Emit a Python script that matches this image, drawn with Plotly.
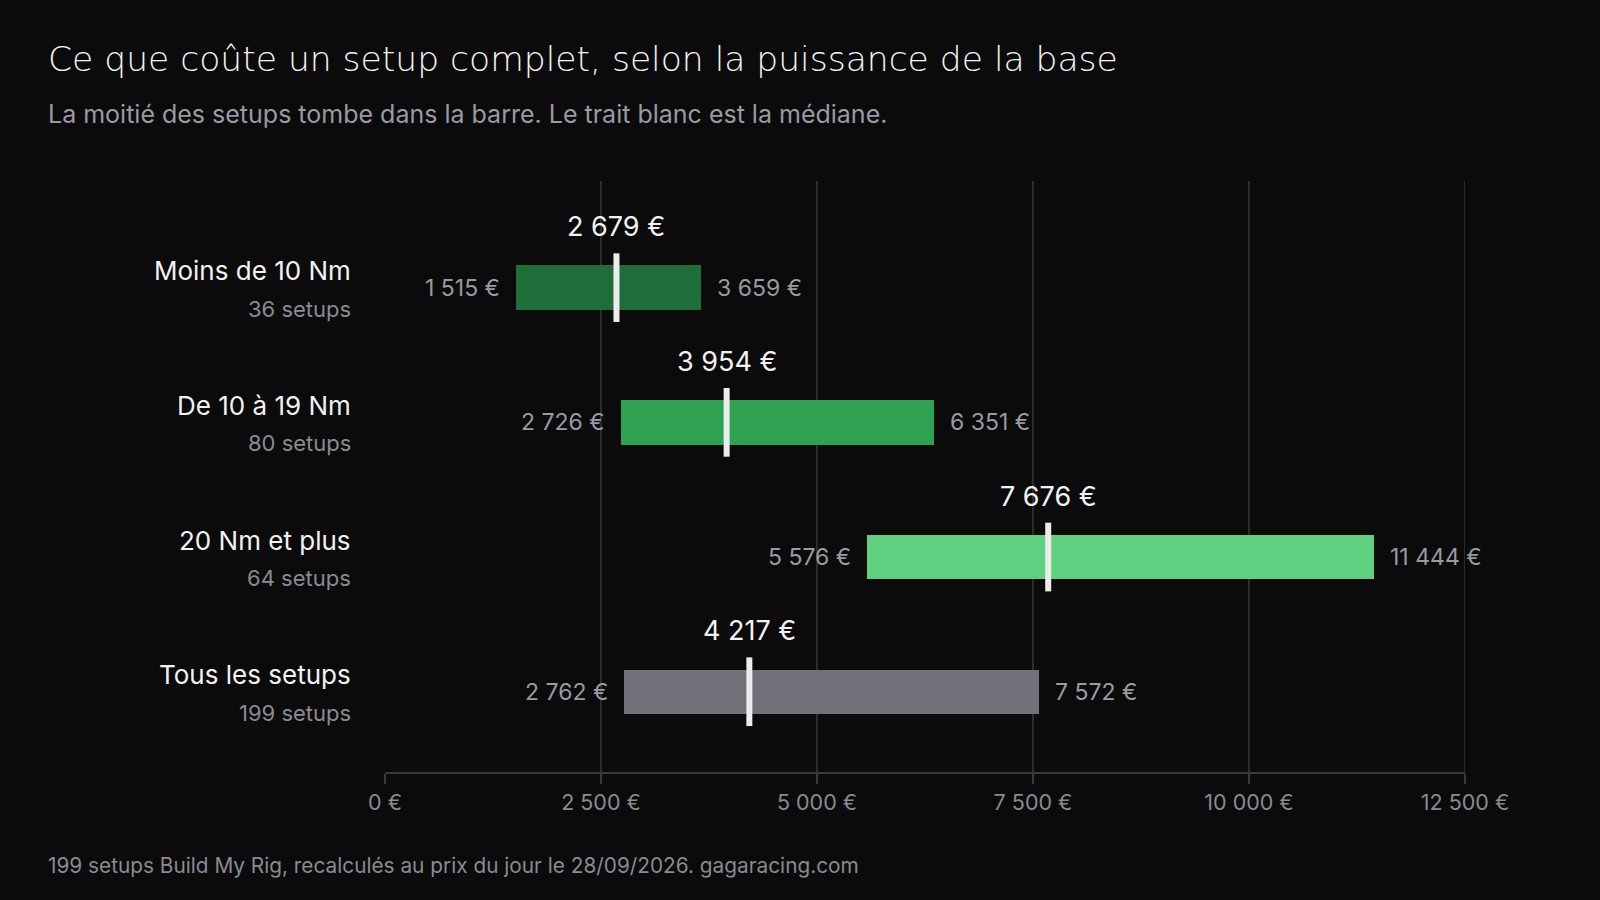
import plotly.graph_objects as go

# data
groups = ['Moins de 10 Nm', 'De 10 à 19 Nm', '20 Nm et plus', 'Tous les setups']
counts = [36, 80, 64, 199]
q1 = [1515, 2726, 5576, 2762]
median = [2679, 3954, 7676, 4217]
q3 = [3659, 6351, 11444, 7572]
bar_colors = ['#1f6e3a', '#2ea152', '#5fd07f', '#71717a']
tick_vals = [0, 2500, 5000, 7500, 10000, 12500]


def euro(v):
    return '{:,}'.format(v).replace(',', ' ') + ' €'


BG = '#0b0b0b'
MUTED = '#9a9aa2'
FONT = 'Inter'

fig = go.Figure()

fig.add_trace(go.Bar(
    y=groups,
    x=[b - a for a, b in zip(q1, q3)],
    base=q1,
    orientation='h',
    width=0.33,
    marker=dict(color=bar_colors, line=dict(width=0)),
    hoverinfo='skip',
    showlegend=False
))

# gridlines (no line at 0)
for t in tick_vals[1:]:
    fig.add_shape(type='line', xref='x', yref='paper', x0=t, x1=t, y0=0, y1=1,
                  line=dict(color='#2c2c2e', width=2), layer='below')

for i, g in enumerate(groups):
    # median stroke
    fig.add_shape(type='line', xref='x', yref='y', x0=median[i], x1=median[i],
                  y0=i - 0.255, y1=i + 0.255,
                  line=dict(color='#ececec', width=6), layer='above')
    # median label
    fig.add_annotation(x=median[i], y=g, text=euro(median[i]), showarrow=False,
                       yshift=61, font=dict(family=FONT, size=27, color='#f2f2f2'))
    # quartile labels
    fig.add_annotation(x=q1[i], y=g, text=euro(q1[i]), showarrow=False,
                       xanchor='right', xshift=-14,
                       font=dict(family=FONT, size=23, color=MUTED))
    fig.add_annotation(x=q3[i], y=g, text=euro(q3[i]), showarrow=False,
                       xanchor='left', xshift=14,
                       font=dict(family=FONT, size=23, color=MUTED))
    # category labels
    fig.add_annotation(xref='paper', x=0, y=g, text=g, showarrow=False,
                       xanchor='right', xshift=-32, yshift=17,
                       font=dict(family=FONT, size=26, color='#f2f2f2'))
    fig.add_annotation(xref='paper', x=0, y=g, text=f'{counts[i]} setups', showarrow=False,
                       xanchor='right', xshift=-32, yshift=-21,
                       font=dict(family=FONT, size=22, color='#8a8a92'))

fig.add_annotation(xref='paper', yref='paper', x=-0.314, y=1.2057,
                   text='Ce que coûte un setup complet, selon la puissance de la base',
                   showarrow=False, xanchor='left', yanchor='middle',
                   font=dict(family='DejaVu Sans', size=34.5, color='#f2f2f2', weight=200))
fig.add_annotation(xref='paper', yref='paper', x=-0.314, y=1.1138,
                   text='La moitié des setups tombe dans la barre. Le trait blanc est la médiane.',
                   showarrow=False, xanchor='left', yanchor='middle',
                   font=dict(family=FONT, size=25, color=MUTED))
fig.add_annotation(xref='paper', yref='paper', x=-0.314, y=-0.1585,
                   text='199 setups Build My Rig, recalculés au prix du jour le 28/09/2026. gagaracing.com',
                   showarrow=False, xanchor='left', yanchor='middle',
                   font=dict(family=FONT, size=20.8, color='#8a8a92'))

fig.update_xaxes(
    range=[0, 12500],
    tickvals=tick_vals,
    ticktext=[euro(v) for v in tick_vals],
    showgrid=False,
    zeroline=False,
    showline=True,
    linecolor='#3a3a3c',
    linewidth=2,
    ticks='outside',
    ticklen=10,
    tickwidth=2,
    tickcolor='#3a3a3c',
    tickfont=dict(family=FONT, size=21.5, color='#8a8a92'),
    fixedrange=True
)
fig.update_yaxes(
    categoryorder='array',
    categoryarray=groups,
    range=[3.596, -0.792],
    showticklabels=False,
    showgrid=False,
    zeroline=False,
    fixedrange=True
)

fig.update_layout(
    width=1600,
    height=900,
    paper_bgcolor=BG,
    plot_bgcolor=BG,
    margin=dict(l=385, r=135, t=181, b=128),
    font=dict(family=FONT, color='#f2f2f2'),
    showlegend=False,
    bargap=0
)

# drop the page's default body margin so the figure sits at the window corner
fig.write_html('out.html', config={'displayModeBar': False},
               post_script="document.body.style.margin='0';")
